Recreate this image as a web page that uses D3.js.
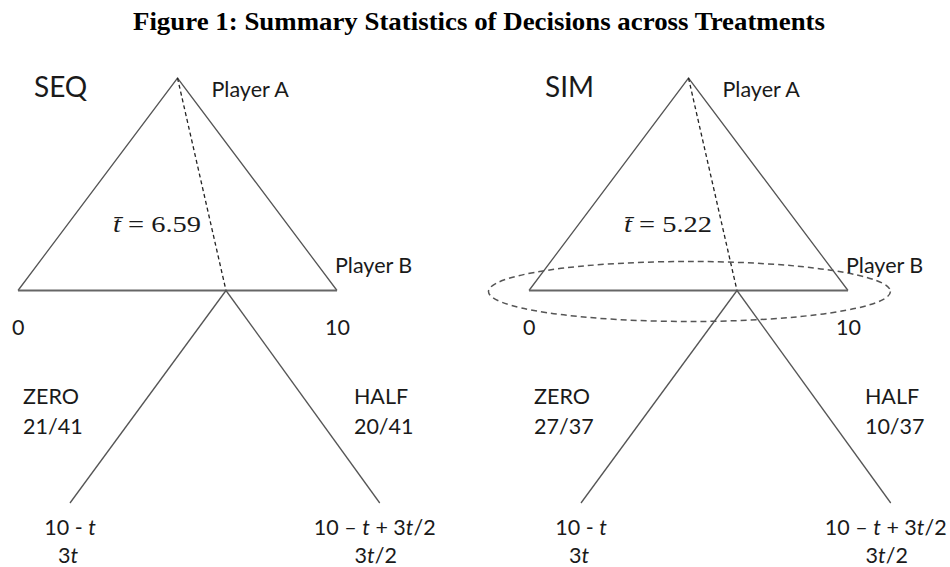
<!DOCTYPE html>
<html>
<head>
<meta charset="utf-8">
<script src="https://cdn.jsdelivr.net/npm/d3@7"></script>
<style>
    body { margin: 0; background: #fff; }
    text { fill: #1a1a1a; }
    .sans { font-family: Lato, "Open Sans", sans-serif; font-size: 21.5px; }
    .serif { font-family: "Liberation Serif", "DejaVu Serif", serif; }
</style>
</head>
<body>
<div id="chart"></div>
<script>
// panel data
var panelNames = ["SEQ", "SIM"];
var meanT = [6.59, 5.22];
var zeroCount = [21, 27];
var halfCount = [20, 10];
var totals = [41, 37];
var endLabels = ["0", "10"];
var choiceNames = ["ZERO", "HALF"];

// tree geometry, in units of the 0..10 transfer axis
var apexPos = 5;
var splitPos = 6.52;
var leafPos = [1.63, 11.34];

var width = 950,
    height = 567;

var svg = d3.select("#chart")
    .append("svg")
        .attr("width", width)
        .attr("height", height);

// Title
svg.append("text")
    .attr("class", "serif")
    .attr("x", 133)
    .attr("y", 30)
    .attr("textLength", 692)
    .attr("lengthAdjust", "spacingAndGlyphs")
    .style("font-size", "25.5px")
    .style("font-weight", "bold")
    .style("fill", "#000")
    .text("Figure 1: Summary Statistics of Decisions across Treatments");

// Set the ranges
var x = d3.scaleLinear().domain([0, 10]).range([0, 319]);
var y = d3.scaleLinear().domain([0, 2]).range([78, 503]);

var panelX = d3.scaleOrdinal().domain(panelNames).range([18, 529]);

function drawPanel (i) {
    var name = panelNames[i];
    var g = svg.append("g")
        .attr("transform", "translate(" + panelX(name) + ",0)");

    // triangle sides
    g.append("path")
        .attr("d", d3.line()([[x(0), y(1)], [x(apexPos), y(0)], [x(10), y(1)]]))
        .attr("fill", "none")
        .attr("stroke", "#555")
        .attr("stroke-width", 1.3);

    // base line
    g.append("line")
        .attr("x1", x(0)).attr("y1", y(1))
        .attr("x2", x(10)).attr("y2", y(1))
        .attr("stroke", "#666")
        .attr("stroke-width", 2.2);

    // dashed line from Player A to the split
    g.append("line")
        .attr("x1", x(apexPos)).attr("y1", y(0))
        .attr("x2", x(splitPos)).attr("y2", y(1))
        .attr("stroke", "#222")
        .attr("stroke-width", 1.3)
        .attr("stroke-dasharray", "4,3");

    // branches to ZERO / HALF
    leafPos.forEach(function (p) {
        g.append("line")
            .attr("x1", x(splitPos)).attr("y1", y(1))
            .attr("x2", x(p)).attr("y2", y(2))
            .attr("stroke", "#555")
            .attr("stroke-width", 1.3);
    });

    // simultaneous move: information set around Player B
    if (name === "SIM") {
        g.append("ellipse")
            .attr("cx", x(5.03))
            .attr("cy", y(1) + 1)
            .attr("rx", x(6.3))
            .attr("ry", 30)
            .attr("fill", "none")
            .attr("stroke", "#555")
            .attr("stroke-width", 1.5)
            .attr("stroke-dasharray", "6,4");
    }

    // labels
    g.append("text")
        .attr("class", "sans")
        .attr("x", x(0.5))
        .attr("y", 97)
        .style("font-size", "28px")
        .text(name);

    g.append("text")
        .attr("class", "sans")
        .attr("x", x(apexPos) + 34)
        .attr("y", 97)
        .text("Player A");

    g.append("text")
        .attr("class", "sans")
        .attr("x", x(10) - 2)
        .attr("y", 273)
        .text("Player B");

    var tt = g.append("text")
        .attr("class", "serif")
        .attr("x", x(splitPos) - 113)
        .attr("y", 232)
        .attr("textLength", 88)
        .attr("lengthAdjust", "spacingAndGlyphs")
        .style("font-size", "23.5px");
    tt.append("tspan").style("font-style", "italic").text("t\u0304");
    tt.append("tspan").text(" = " + d3.format(".2f")(meanT[i]));

    endLabels.forEach(function (l, k) {
        g.append("text")
            .attr("class", "sans")
            .attr("x", k === 0 ? x(0) - 6 : x(10) - 12)
            .attr("y", 335)
            .text(l);
    });

    var counts = [zeroCount[i], halfCount[i]];
    var labelPos = [0.16, 10.53];
    choiceNames.forEach(function (c, k) {
        g.append("text")
            .attr("class", "sans")
            .attr("x", x(labelPos[k]))
            .attr("y", 404)
            .text(c);
        g.append("text")
            .attr("class", "sans")
            .attr("x", x(labelPos[k]))
            .attr("y", 434)
            .text(counts[k] + "/" + totals[i]);
    });

    // payoffs at the leaves
    var zx = x(leafPos[0]),
        hx = x(leafPos[1]) - 5;

    var p1 = g.append("text").attr("class", "sans")
        .attr("x", zx).attr("y", 535).attr("text-anchor", "middle");
    p1.append("tspan").text("10 - ");
    p1.append("tspan").style("font-style", "italic").text("t");

    var p2 = g.append("text").attr("class", "sans")
        .attr("x", zx - 2).attr("y", 563).attr("text-anchor", "middle");
    p2.append("tspan").text("3");
    p2.append("tspan").style("font-style", "italic").text("t");

    var p3 = g.append("text").attr("class", "sans")
        .attr("x", hx).attr("y", 535).attr("text-anchor", "middle");
    p3.append("tspan").text("10 \u2013 ");
    p3.append("tspan").style("font-style", "italic").text("t");
    p3.append("tspan").text(" + 3");
    p3.append("tspan").style("font-style", "italic").text("t");
    p3.append("tspan").text("/2");

    var p4 = g.append("text").attr("class", "sans")
        .attr("x", hx + 1).attr("y", 563).attr("text-anchor", "middle");
    p4.append("tspan").text("3");
    p4.append("tspan").style("font-style", "italic").text("t");
    p4.append("tspan").text("/2");
}

panelNames.forEach(function (d, i) { drawPanel(i); });
</script>
</body>
</html>
